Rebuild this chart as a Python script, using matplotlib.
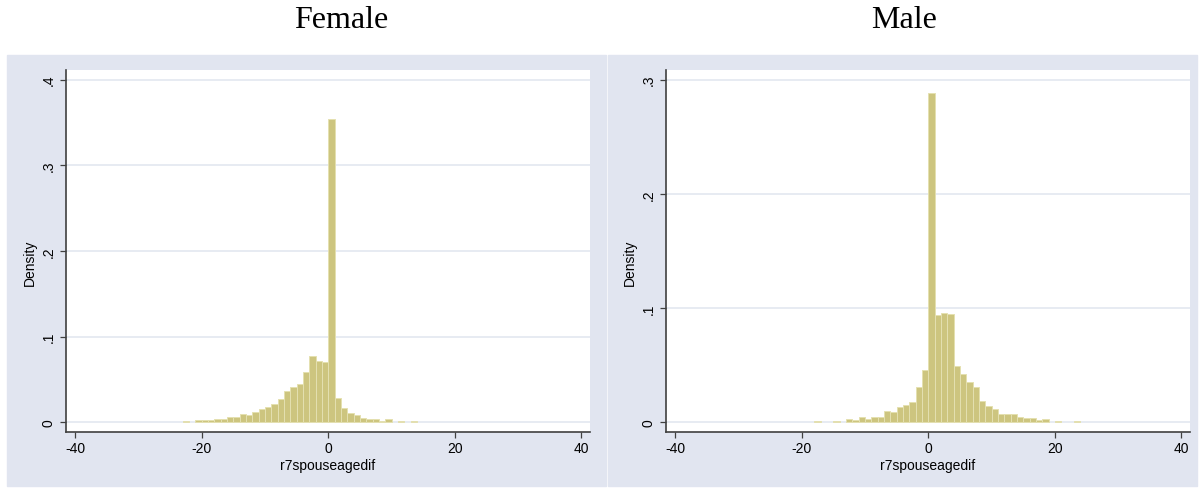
import numpy as np
import matplotlib as mp
mp.use('Agg')
import matplotlib.pyplot as plt
from matplotlib.patches import Rectangle

plt.rcParams['font.family'] = ['Liberation Sans', 'DejaVu Sans']

# bin lower edges (width 1) and densities
fem_bins = [-23, -21, -20, -19, -18, -17, -16, -15, -14, -13, -12, -11, -10, -9,
            -8, -7, -6, -5, -4, -3, -2, -1, 0, 1, 2, 3, 4, 5, 6, 7, 8, 9, 11, 13]
fem_dens = [0.002, 0.0023, 0.0023, 0.0023, 0.0035, 0.0035, 0.006, 0.0066, 0.010,
            0.009, 0.012, 0.015, 0.018, 0.021, 0.027, 0.036, 0.041, 0.045, 0.059,
            0.077, 0.071, 0.070, 0.354, 0.028, 0.017, 0.0105, 0.008, 0.0055,
            0.0035, 0.004, 0.0015, 0.004, 0.002, 0.002]

male_bins = [-18, -15, -13, -12, -11, -10, -9, -8, -7, -6, -5, -4, -3, -2, -1, 0,
             1, 2, 3, 4, 5, 6, 7, 8, 9, 10, 11, 12, 13, 14, 15, 16, 17, 18, 20, 23]
male_dens = [0.0015, 0.0015, 0.0026, 0.0023, 0.005, 0.003, 0.005, 0.005, 0.010,
             0.009, 0.013, 0.0155, 0.018, 0.031, 0.046, 0.288, 0.094, 0.096,
             0.095, 0.049, 0.042, 0.035, 0.031, 0.019, 0.014, 0.012, 0.0076,
             0.0073, 0.0076, 0.005, 0.004, 0.0035, 0.0018, 0.0032, 0.0015, 0.0015]

xticks = [-40, -20, 0, 20, 40]
fem_yticks = [0, 0.1, 0.2, 0.3, 0.4]
fem_ylabels = ['0', '.1', '.2', '.3', '.4']
male_yticks = [0, 0.1, 0.2, 0.3]
male_ylabels = ['0', '.1', '.2', '.3']

W, H = 1200, 489
fig = plt.figure(figsize=(W / 100, H / 100), dpi=100)
fig.patch.set_facecolor('white')

panel_bg = '#e1e5f0'
bar_fc = '#cdc57f'
bar_ec = '#e4e0b0'
axis_col = '#404040'
grid_col = '#e0e5ef'

# gray graph regions (behind the axes)
fig.patches.append(Rectangle((7 / W, 1 - 487 / H), 599 / W, 431 / H,
                             transform=fig.transFigure, color=panel_bg, zorder=-5))
fig.patches.append(Rectangle((608 / W, 1 - 487 / H), 589 / W, 431 / H,
                             transform=fig.transFigure, color=panel_bg, zorder=-5))


def make_ax(x0, bins, dens, yticks, ylabels, ylim):
    ax = fig.add_axes([x0 / W, 1 - 432.7 / H, 524 / W, 361.7 / H])
    ax.set_facecolor('white')
    ax.bar(bins, dens, width=1, align='edge', color=bar_fc, edgecolor=bar_ec,
           linewidth=0.7, zorder=3)
    ax.set_xlim(-41.45, 41.35)
    ax.set_ylim(*ylim)
    ax.set_xticks(xticks)
    ax.set_xticklabels([str(t) for t in xticks])
    ax.set_yticks(yticks)
    ax.set_yticklabels(ylabels, rotation=90, va='center')
    for y in yticks:
        ax.axhline(y, color=grid_col, lw=1.1, zorder=1)
    for s in ['top', 'right']:
        ax.spines[s].set_visible(False)
    for s in ['left', 'bottom']:
        ax.spines[s].set_color(axis_col)
        ax.spines[s].set_linewidth(1.2)
    ax.tick_params(direction='out', length=4, width=0.9, color=axis_col,
                   labelsize=10, labelcolor='black')
    ax.tick_params(axis='x', pad=3)
    ax.tick_params(axis='y', pad=3.5)
    ax.set_xlabel('r7spouseagedif', fontsize=10)
    ax.xaxis.set_label_coords(0.5, -0.074)
    ax.set_ylabel('Density', fontsize=10)
    ax.yaxis.set_label_coords(-0.055, 0.47)
    return ax


ax1 = make_ax(66, fem_bins, fem_dens, fem_yticks, fem_ylabels, (-0.011, 0.4113))
ax2 = make_ax(666, male_bins, male_dens, male_yticks, male_ylabels, (-0.0082, 0.3085))

fig.text(341.7 / W, 1 - 21 / H, 'Female', ha='center', va='center',
         fontsize=23, family='Liberation Serif')
fig.text(903.7 / W, 1 - 21 / H, 'Male', ha='center', va='center',
         fontsize=23, family='Liberation Serif')

plt.savefig("out.png", dpi=100)
